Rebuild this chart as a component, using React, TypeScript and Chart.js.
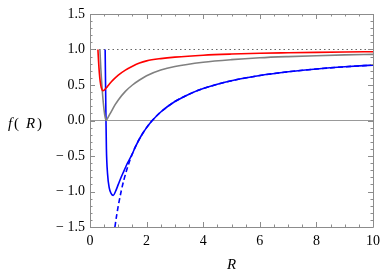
import React, { useEffect, useRef } from "react";
import { Chart, registerables } from "chart.js";

Chart.register(...registerables);

// ---- data ----
const xTickValues = [0, 2, 4, 6, 8, 10];
const yTickValues = [-1.5, -1, -0.5, 0, 0.5, 1, 1.5];

const redR = [0.28, 0.3, 0.33, 0.36, 0.4, 0.46, 0.52, 0.6, 0.7, 0.8, 1.0, 1.25, 1.5, 1.75, 2.0, 2.5, 3, 4, 5, 6, 7, 8, 9, 10];
const redF = [1.0, 0.85, 0.67, 0.55, 0.46, 0.42, 0.435, 0.47, 0.52, 0.565, 0.64, 0.71, 0.765, 0.81, 0.84, 0.872, 0.893, 0.92, 0.936, 0.947, 0.954, 0.96, 0.965, 0.969];

const grayR = [0.35, 0.38, 0.42, 0.47, 0.52, 0.57, 0.62, 0.7, 0.8, 0.9, 1.0, 1.25, 1.5, 1.75, 2.0, 2.5, 3, 4, 5, 6, 7, 8, 9, 10];
const grayF = [1.0, 0.75, 0.5, 0.25, 0.08, 0.0, 0.03, 0.09, 0.16, 0.23, 0.29, 0.41, 0.5, 0.57, 0.63, 0.71, 0.76, 0.82, 0.857, 0.883, 0.9, 0.913, 0.924, 0.932];

const blueR = [0.535, 0.55, 0.565, 0.58, 0.62, 0.68, 0.75, 0.82, 0.9, 1.0, 1.1, 1.2, 1.3, 1.4, 1.5, 1.6, 1.8, 2.0, 2.2, 2.5, 3, 3.5, 4, 5, 6, 7, 8, 9, 10];
const blueF = [1.0, 0.5, 0.0, -0.4, -0.75, -0.95, -1.03, -1.055, -1.0, -0.9, -0.8, -0.71, -0.62, -0.545, -0.465, -0.375, -0.222, -0.1, 0.0, 0.12, 0.267, 0.371, 0.45, 0.56, 0.633, 0.686, 0.725, 0.756, 0.78];

const dashR = [0.88, 0.95, 1.0, 1.1, 1.2, 1.4, 1.6, 1.8, 2.0, 2.2, 2.5, 3, 3.5, 4, 5, 6, 7, 8, 9, 10];
const dashF = [-1.5, -1.316, -1.2, -1.0, -0.833, -0.571, -0.375, -0.222, -0.1, 0.0, 0.12, 0.267, 0.371, 0.45, 0.56, 0.633, 0.686, 0.725, 0.756, 0.78];

const refR = [0, 10];
const oneF = [1, 1];
const zeroF = [0, 0];

const toPts = (xs: number[], ys: number[]) => xs.map((x, i) => ({ x, y: ys[i] }));

const SERIF = "'Liberation Serif', 'Times New Roman', serif";

const framePlugin = {
  id: "frameTicks",
  afterDatasetsDraw(chart: any) {
    const { ctx, chartArea } = chart;
    const { left, right, top, bottom } = chartArea;
    const xs = chart.scales.x;
    const ys = chart.scales.y;
    ctx.save();
    ctx.strokeStyle = "#8c8c8c";
    ctx.lineWidth = 1;
    ctx.beginPath();
    ctx.rect(Math.round(left) + 0.5, Math.round(top) + 0.5, Math.round(right - left), Math.round(bottom - top));
    ctx.stroke();
    // x ticks (major every 2, minor every 0.5)
    for (let k = 0; k <= 20; k++) {
      const v = k * 0.5;
      const px = Math.round(xs.getPixelForValue(v)) + 0.5;
      const len = k % 4 === 0 ? 5 : 2.5;
      ctx.beginPath();
      ctx.moveTo(px, bottom);
      ctx.lineTo(px, bottom - len);
      ctx.moveTo(px, top);
      ctx.lineTo(px, top + len);
      ctx.stroke();
    }
    // y ticks (major every 0.5, minor every 0.1)
    for (let k = 0; k <= 30; k++) {
      const v = -1.5 + k * 0.1;
      const py = Math.round(ys.getPixelForValue(v)) + 0.5;
      const len = k % 5 === 0 ? 5 : 2.5;
      ctx.beginPath();
      ctx.moveTo(left, py);
      ctx.lineTo(left + len, py);
      ctx.moveTo(right, py);
      ctx.lineTo(right - len, py);
      ctx.stroke();
    }
    // axis labels
    ctx.fillStyle = "#000";
    ctx.textBaseline = "alphabetic";
    ctx.textAlign = "left";
    const yLab = ys.getPixelForValue(0) + 7;
    ctx.font = "italic 15px " + SERIF;
    ctx.fillText("f", 8, yLab);
    ctx.font = "15px " + SERIF;
    ctx.fillText("(", 14, yLab);
    ctx.font = "italic 15px " + SERIF;
    ctx.fillText("R", 26, yLab);
    ctx.font = "15px " + SERIF;
    ctx.fillText(")", 37, yLab);
    ctx.font = "italic 15px " + SERIF;
    ctx.textAlign = "center";
    ctx.fillText("R", xs.getPixelForValue(5), 269);
    ctx.restore();
  },
};

export default function App() {
  const ref = useRef<HTMLCanvasElement | null>(null);
  useEffect(() => {
    if (!ref.current) return;
    const chart = new Chart(ref.current, {
      type: "line",
      data: {
        datasets: [
          { data: toPts(redR, redF), borderColor: "#ff0000", borderWidth: 1.6, pointRadius: 0, cubicInterpolationMode: "monotone", fill: false },
          { data: toPts(grayR, grayF), borderColor: "#808080", borderWidth: 1.6, pointRadius: 0, cubicInterpolationMode: "monotone", fill: false },
          { data: toPts(blueR, blueF), borderColor: "#0000ff", borderWidth: 1.6, pointRadius: 0, cubicInterpolationMode: "monotone", fill: false },
          { data: toPts(dashR, dashF), borderColor: "#0000ff", borderWidth: 1.6, borderDash: [5, 3], pointRadius: 0, cubicInterpolationMode: "monotone", fill: false },
          { data: toPts(refR, oneF), borderColor: "#666666", borderWidth: 1.2, borderDash: [1.5, 3], pointRadius: 0, fill: false },
          { data: toPts(refR, zeroF), borderColor: "#999999", borderWidth: 1, pointRadius: 0, fill: false },
        ],
      } as any,
      options: {
        animation: false,
        responsive: false,
        layout: { padding: { top: 14, right: 11, left: 0, bottom: 0 } },
        plugins: { legend: { display: false }, tooltip: { enabled: false } },
        scales: {
          x: {
            type: "linear",
            min: 0,
            max: 10,
            afterBuildTicks: (s: any) => { s.ticks = xTickValues.map((v) => ({ value: v })); },
            afterFit: (s: any) => { s.height = 50; },
            grid: { display: false, drawTicks: false },
            border: { display: false },
            ticks: { color: "#000", padding: 6, maxRotation: 0, font: { family: SERIF, size: 14 }, callback: (v: any) => String(v) },
          },
          y: {
            type: "linear",
            min: -1.5,
            max: 1.5,
            afterBuildTicks: (s: any) => { s.ticks = yTickValues.map((v) => ({ value: v })); },
            afterFit: (s: any) => { s.width = 90; },
            grid: { display: false, drawTicks: false },
            border: { display: false },
            ticks: {
              color: "#000",
              padding: 5,
              font: { family: SERIF, size: 14 },
              callback: (v: any) => (v < 0 ? "\u2212 " + Math.abs(v).toFixed(1) : Number(v).toFixed(1)),
            },
          },
        },
      } as any,
      plugins: [framePlugin],
    });
    return () => chart.destroy();
  }, []);
  return (
    <div style={{ position: "absolute", left: 0, top: 0, width: 386, height: 277, background: "#fff" }}>
      <canvas ref={ref} width={386} height={277} style={{ display: "block", width: 386, height: 277 }} />
    </div>
  );
}
